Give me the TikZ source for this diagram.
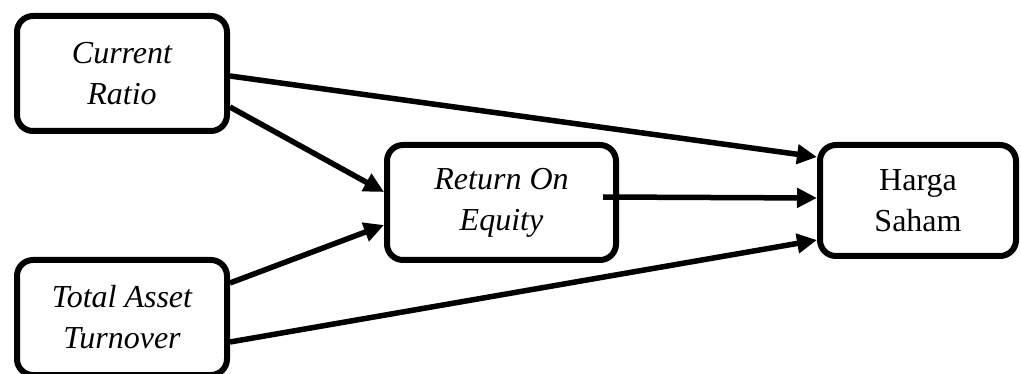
\documentclass[tikz,border=0pt]{standalone}
\usepackage{fontspec}
\setmainfont{Liberation Serif}
\usetikzlibrary{arrows.meta}
\begin{document}
\begin{tikzpicture}[x=1pt,y=-1pt,
  box/.style={draw=black,line width=6pt,rounded corners=16pt,fill=white,inner sep=0pt,align=center,font=\fontsize{32}{41}\selectfont},
  itbox/.style={box,font=\itshape\fontsize{32}{41}\selectfont},
  conn/.style={line width=5.5pt,-{Triangle[length=20pt,width=19pt]}}]
\useasboundingbox (0,0) rectangle (1021,374);
\node[itbox,minimum width=210pt,minimum height=115pt] (cr) at (122,73.5) {Current\\Ratio};
\node[itbox,minimum width=210pt,minimum height=115pt] (tat) at (122,317.5) {Total Asset\\Turnover};
\node[itbox,minimum width=229pt,minimum height=115pt] (roe) at (501.5,202.5) {Return On\\Equity};
\node[box,minimum width=196pt,minimum height=111pt] (hs) at (918,200.5) {Harga\\Saham};
\draw[conn] ([yshift=-2.5pt]cr.east) -- ([yshift=43.5pt]hs.west);
\draw[conn] ([yshift=-33.5pt]cr.east) -- ([yshift=10.5pt]roe.west);
\draw[conn] ([yshift=34.5pt]tat.east) -- ([yshift=-22.5pt]roe.west);
\draw[conn] ([yshift=-24.5pt]tat.east) -- ([yshift=-39.5pt]hs.west);
\draw[conn] ([xshift=-16pt,yshift=5.5pt]roe.east) -- ([yshift=2.5pt]hs.west);
\end{tikzpicture}
\end{document}
